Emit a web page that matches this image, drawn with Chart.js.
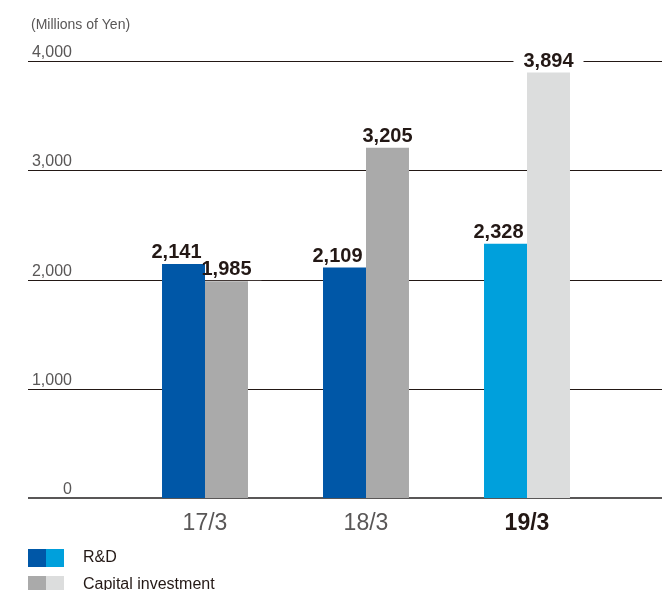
<!DOCTYPE html>
<html>
<head>
<meta charset="utf-8">
<script src="https://cdn.jsdelivr.net/npm/chart.js@4"></script>
<style>
html,body{margin:0;padding:0;background:#fff;}
canvas{display:block;}
</style>
</head>
<body>
<canvas id="c" width="662" height="590"></canvas>
<script>
const categories = ['17/3', '18/3', '19/3'];
const rdValues = [2141, 2109, 2328];
const capexValues = [1985, 3205, 3894];
const yTicks = [0, 1000, 2000, 3000, 4000];
const unitLabel = '(Millions of Yen)';
const seriesNames = ['R&D', 'Capital investment'];

const rdColors = ['#0057A7', '#0057A7', '#00A0DC'];
const capColors = ['#AAAAAA', '#AAAAAA', '#DCDDDD'];
const FONT = '"Liberation Sans", Arial, Helvetica, sans-serif';
const VALUE_FONT = 'bold 20px ' + FONT;

const fmt = v => v.toLocaleString('en-US');

function labelPos(bar, di) {
  return { cx: bar.x + (di === 0 ? -7 : 0), by: bar.y - 6 };
}

const decor = {
  id: 'decor',
  beforeDatasetsDraw(chart) {
    const ctx = chart.ctx;
    const y = chart.scales.y;
    ctx.save();
    yTicks.forEach(t => {
      const py = Math.round(y.getPixelForValue(t));
      ctx.beginPath();
      if (t === 0) {
        ctx.strokeStyle = '#595757';
        ctx.lineWidth = 2;
        ctx.moveTo(28, py);
        ctx.lineTo(662, py);
      } else {
        ctx.strokeStyle = '#231815';
        ctx.lineWidth = 1;
        ctx.moveTo(28, py + 0.5);
        ctx.lineTo(662, py + 0.5);
      }
      ctx.stroke();
      ctx.fillStyle = '#595757';
      ctx.font = '16px ' + FONT;
      ctx.textAlign = 'right';
      ctx.textBaseline = 'alphabetic';
      ctx.fillText(fmt(t), 72, py - 4);
    });
    ctx.fillStyle = '#595757';
    ctx.font = '14px ' + FONT;
    ctx.textAlign = 'left';
    ctx.fillText(unitLabel, 31, 29);
    // white knock-outs behind value labels (gridlines break around them)
    ctx.font = VALUE_FONT;
    chart.data.datasets.forEach((ds, di) => {
      const meta = chart.getDatasetMeta(di);
      meta.data.forEach((bar, i) => {
        const txt = fmt(ds.data[i]);
        const p = labelPos(bar, di);
        const w = ctx.measureText(txt).width;
        ctx.fillStyle = '#ffffff';
        ctx.fillRect(p.cx - w / 2 - 10, p.by - 17, w + 20, 22);
      });
    });
    ctx.restore();
  },
  afterDatasetsDraw(chart) {
    const ctx = chart.ctx;
    const x = chart.scales.x;
    ctx.save();
    ctx.font = VALUE_FONT;
    ctx.textAlign = 'center';
    ctx.textBaseline = 'alphabetic';
    chart.data.datasets.forEach((ds, di) => {
      const meta = chart.getDatasetMeta(di);
      meta.data.forEach((bar, i) => {
        const p = labelPos(bar, di);
        ctx.fillStyle = '#231815';
        ctx.fillText(fmt(ds.data[i]), p.cx, p.by);
      });
    });
    categories.forEach((c, i) => {
      const px = x.getPixelForValue(i);
      const last = i === categories.length - 1;
      ctx.font = (last ? 'bold ' : '') + '23px ' + FONT;
      ctx.fillStyle = last ? '#231815' : '#595757';
      ctx.textAlign = 'center';
      ctx.fillText(c, px, 530);
    });
    const legendRows = [
      { name: seriesNames[0], c1: rdColors[0], c2: rdColors[2], y: 549 },
      { name: seriesNames[1], c1: capColors[0], c2: capColors[2], y: 576 }
    ];
    legendRows.forEach(r => {
      ctx.fillStyle = r.c1;
      ctx.fillRect(28, r.y, 18, 18);
      ctx.fillStyle = r.c2;
      ctx.fillRect(46, r.y, 18, 18);
      ctx.fillStyle = '#231815';
      ctx.font = '16px ' + FONT;
      ctx.textAlign = 'left';
      ctx.textBaseline = 'middle';
      ctx.fillText(r.name, 83, r.y + 9);
    });
    ctx.restore();
  }
};

new Chart(document.getElementById('c'), {
  type: 'bar',
  data: {
    labels: categories,
    datasets: [
      { label: seriesNames[0], data: rdValues, backgroundColor: rdColors, borderWidth: 0,
        barPercentage: 1, categoryPercentage: 0.534 },
      { label: seriesNames[1], data: capexValues, backgroundColor: capColors, borderWidth: 0,
        barPercentage: 1, categoryPercentage: 0.534 }
    ]
  },
  options: {
    responsive: false,
    animation: false,
    devicePixelRatio: 1,
    layout: { padding: { left: 124.5, right: 54.5, top: 61, bottom: 92 } },
    plugins: { legend: { display: false }, tooltip: { enabled: false } },
    scales: {
      x: { display: false },
      y: { display: false, min: 0, max: 4000 }
    }
  },
  plugins: [decor]
});
</script>
</body>
</html>
